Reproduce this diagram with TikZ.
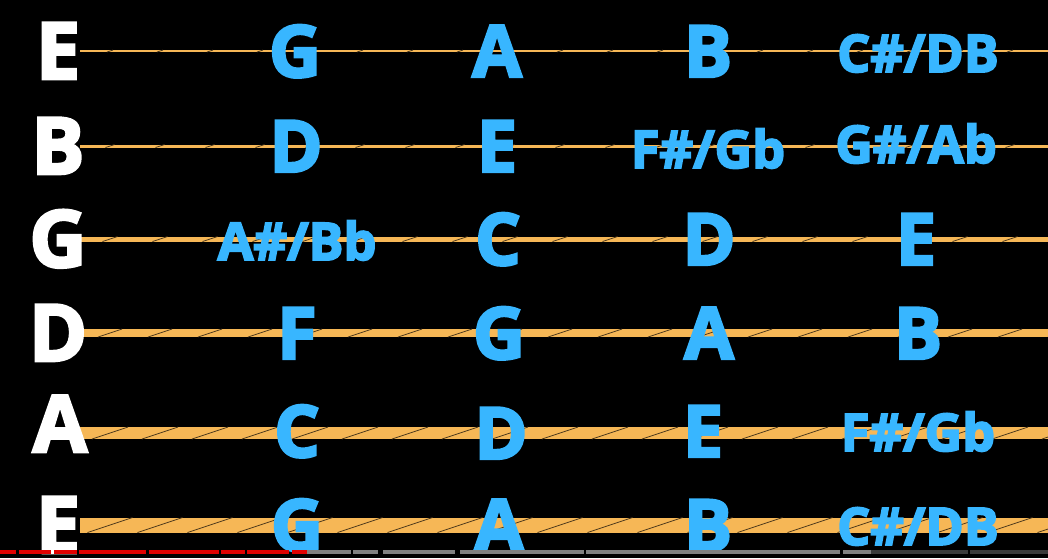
\documentclass[tikz,border=0pt]{standalone}
\usepackage{fontspec}
\setmainfont{Open Sans}[BoldFeatures={FakeBold=3.4}]
\usepackage{xcolor}
\definecolor{noteblue}{HTML}{38B6FF}
\definecolor{stringgold}{HTML}{F6B756}
\definecolor{windbrown}{HTML}{4E3A1C}
\definecolor{barred}{HTML}{E00000}
\definecolor{barlight}{HTML}{808080}
\definecolor{bardark}{HTML}{3A3A3A}

\begin{document}
\begin{tikzpicture}[
    x=1pt, y=-1pt,
    open/.style={font=\fontsize{79}{79}\selectfont\bfseries, text=white,
                 anchor=base, inner sep=0pt},
    note/.style={font=\fontsize{72}{72}\selectfont\bfseries, text=noteblue,
                 anchor=base, inner sep=0pt},
    pair/.style={font=\fontsize{52}{52}\selectfont\bfseries, text=noteblue,
                 anchor=base, inner sep=0pt},
    gauge/.style={draw=stringgold},
    wind/.style={draw=windbrown, line width=0.8pt}
]
\useasboundingbox (0,0) rectangle (1048,558);
\fill[black] (0,0) rectangle (1048,558);
\clip (0,0) rectangle (1048,558);

% strings, thin to thick
\foreach \y/\w [count=\i] in {51/2,146/3,239/5,333/8,433/12,525/15} {
  \draw[gauge, line width=\w pt] (80,\y) coordinate (st\i) -- (1048,\y) coordinate (en\i);
  \foreach \x in {110,160,...,1060}
    \draw[wind] ({\x-1.5*\w},{\y+\w/2}) -- ({\x+1.5*\w},{\y-\w/2});
}

% open strings
\node[open] (o1) at (58,79) {E};
\node[open] (o2) at (58,174) {B};
\node[open] (o3) at (58,267) {G};
\node[open] (o4) at (58,361) {D};
\node[open] (o5) at (60,452) {A};
\node[open] (o6) at (58,553) {E};

% notes along each string
\node[note] (e1a) at (295,77) {G};
\node[note] (e1b) at (497,77) {A};
\node[note] (e1c) at (708,77) {B};
\node[pair] (e1d) at (918,72) {C\#/DB};

\node[note] (b2a) at (296,172) {D};
\node[note] (b2b) at (497,172) {E};
\node[pair] (b2c) at (708,168) {F\#/Gb};
\node[pair] (b2d) at (916,163) {G\#/Ab};

\node[pair] (g3a) at (297,260) {A\#/Bb};
\node[note] (g3b) at (498,265) {C};
\node[note] (g3c) at (709,265) {D};
\node[note] (g3d) at (916,265) {E};

\node[note] (d4a) at (297,359) {F};
\node[note] (d4b) at (499,359) {G};
\node[note] (d4c) at (709,359) {A};
\node[note] (d4d) at (918,359) {B};

\node[note] (a5a) at (297,457) {C};
\node[note] (a5b) at (501,459) {D};
\node[note] (a5c) at (703,457) {E};
\node[pair] (a5d) at (918,451) {F\#/Gb};

\node[note] (e6a) at (297,551) {G};
\node[note] (e6b) at (499,551) {A};
\node[note] (e6c) at (708,551) {B};
\node[pair] (e6d) at (918,545) {C\#/DB};

% progress bar
\foreach \a/\b in {0/16,19/51,54/77,79/146,149/219,221/245,247/289,292/307}
  \fill[barred] (\a,550) rectangle (\b,554);
\foreach \a/\b in {307/351,353/378,383/455,460/584,586/840,843/871}
  \fill[barlight] (\a,550) rectangle (\b,554);
\foreach \a/\b in {871/968,970/1048}
  \fill[bardark] (\a,550) rectangle (\b,554);
\end{tikzpicture}
\end{document}
